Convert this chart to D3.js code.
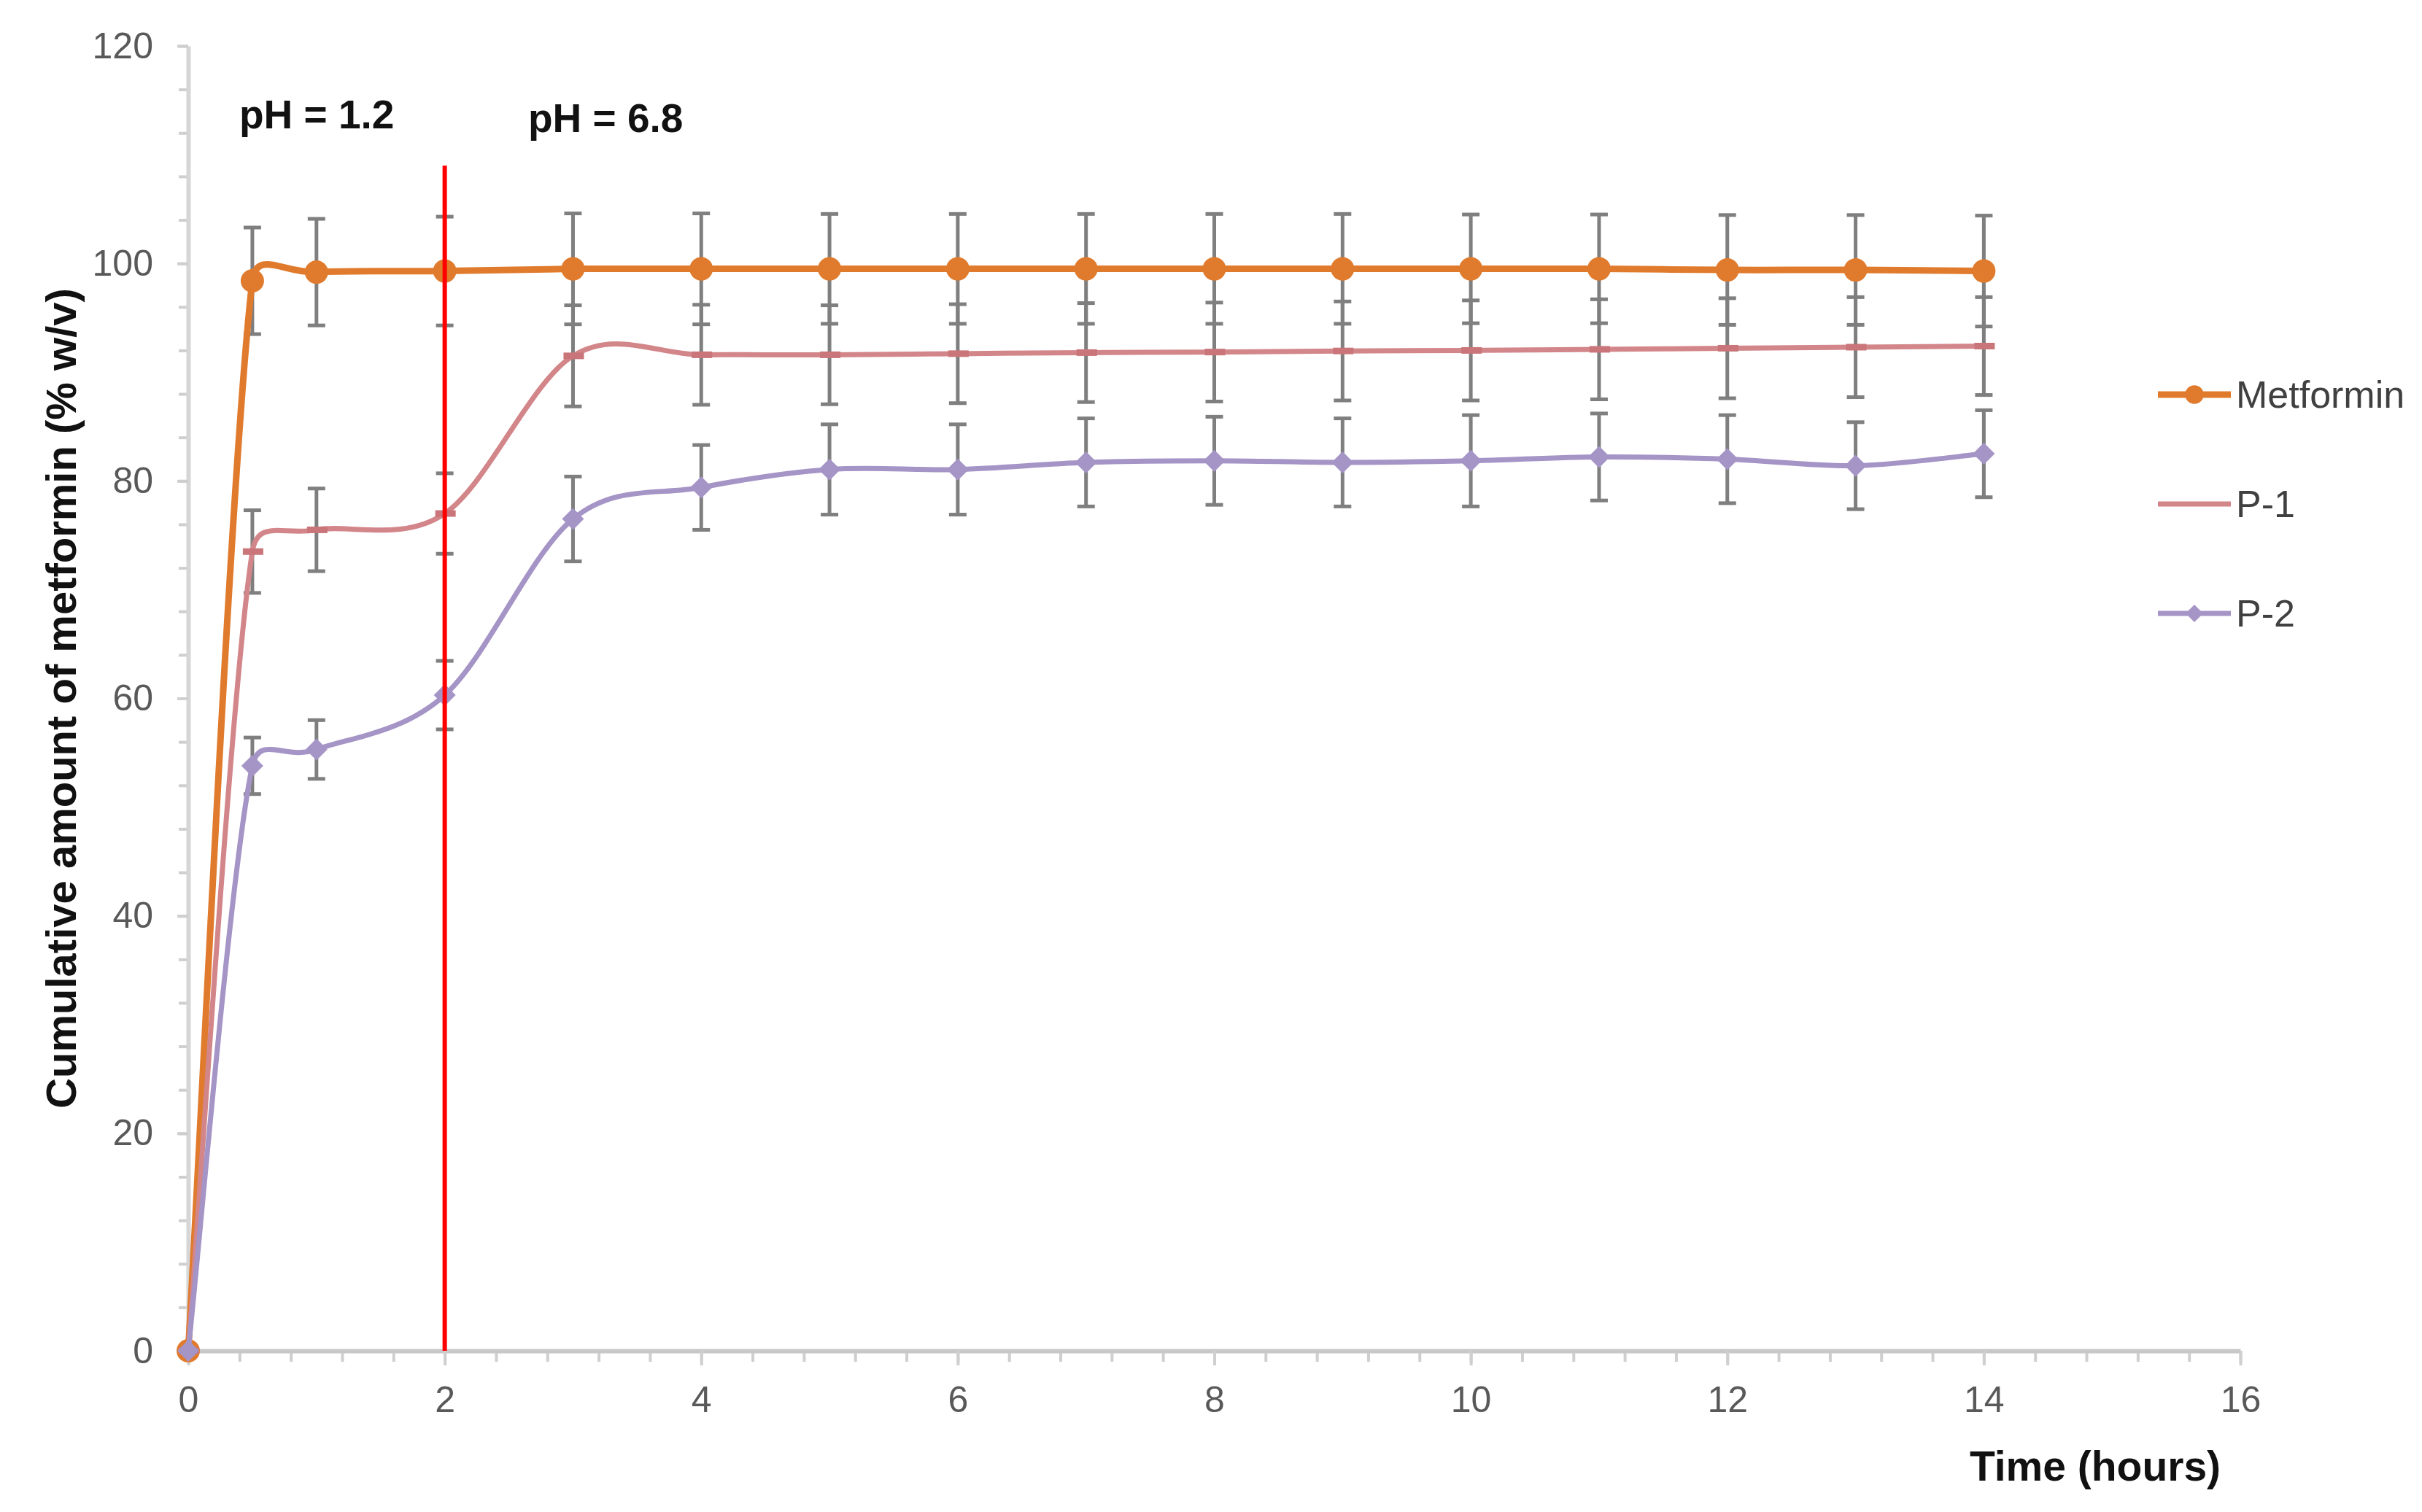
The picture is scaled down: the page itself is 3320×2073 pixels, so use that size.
<!DOCTYPE html>
<html>
<head>
<meta charset="utf-8">
<script src="https://cdn.jsdelivr.net/npm/d3@7"></script>
<style>
  html, body { margin: 0; padding: 0; background: #ffffff; }
  svg { display: block; }
</style>
</head>
<body>
<div id="chart"></div>
<script>
// ---------- data ----------
const times = [0, 0.5, 1, 2, 3, 4, 5, 6, 7, 8, 9, 10, 11, 12, 13, 14];
const metformin = [0, 98.4, 99.2, 99.3, 99.5, 99.5, 99.5, 99.5, 99.5, 99.5, 99.5, 99.5, 99.5, 99.4, 99.4, 99.3];
const metforminErr = [0, 4.9, 4.9, 5.0, 5.1, 5.1, 5.05, 5.05, 5.05, 5.05, 5.05, 5.0, 5.0, 5.05, 5.05, 5.1];
const p1 = [0, 73.5, 75.5, 77.0, 91.5, 91.6, 91.6, 91.7, 91.8, 91.85, 91.95, 92.0, 92.1, 92.2, 92.3, 92.4];
const p1Err = [0, 3.8, 3.8, 3.7, 4.65, 4.6, 4.55, 4.55, 4.55, 4.55, 4.55, 4.6, 4.6, 4.6, 4.6, 4.5];
const p2 = [0, 53.8, 55.3, 60.3, 76.5, 79.4, 81.05, 81.05, 81.7, 81.85, 81.7, 81.85, 82.2, 82.0, 81.4, 82.5];
const p2Err = [0, 2.6, 2.7, 3.15, 3.9, 3.9, 4.15, 4.15, 4.05, 4.05, 4.05, 4.2, 4.0, 4.05, 4.0, 4.0];
const seriesNames = ["Metformin", "P-1", "P-2"];
const xMajorTicks = [0, 2, 4, 6, 8, 10, 12, 14, 16];
const yMajorTicks = [0, 20, 40, 60, 80, 100, 120];
const phChange = 2;
const phLineTop = 109;
const phLabels = ["pH = 1.2", "pH = 6.8"];
const xTitle = "Time (hours)";
const yTitle = "Cumulative amount of metformin (% w/v)";

// ---------- layout ----------
const W = 3320, H = 2073;
const svg = d3.select("#chart").append("svg").attr("width", W).attr("height", H);

const x = d3.scaleLinear().domain([0, 16]).range([258, 3071]);
const y = d3.scaleLinear().domain([0, 120]).range([1852, 63]);

const axisColor = "#cfcfcf";
const labelColor = "#595959";
const font = "'Liberation Sans', Arial, sans-serif";

// minor ticks
const xMinor = d3.range(0, 16.0001, 0.4);
const yMinor = d3.range(0, 120.0001, 4);

const gxMinor = svg.append("g").attr("transform", `translate(0,${y(0)})`)
  .call(d3.axisBottom(x).tickValues(xMinor).tickSize(15).tickFormat(""));
gxMinor.select(".domain").remove();
gxMinor.selectAll("line").attr("stroke", axisColor).attr("stroke-width", 4);

const gyMinor = svg.append("g").attr("transform", `translate(${x(0)},0)`)
  .call(d3.axisLeft(y).tickValues(yMinor).tickSize(13).tickFormat(""));
gyMinor.select(".domain").remove();
gyMinor.selectAll("line").attr("stroke", axisColor).attr("stroke-width", 4);

// major axes
const gx = svg.append("g").attr("transform", `translate(0,${y(0)})`)
  .call(d3.axisBottom(x).tickValues(xMajorTicks).tickSize(20).tickSizeOuter(0).tickPadding(28));
gx.select(".domain").attr("stroke", "#c8c8c8").attr("stroke-width", 6);
gx.selectAll(".tick line").attr("stroke", axisColor).attr("stroke-width", 4);
gx.selectAll(".tick text").attr("fill", labelColor).attr("font-family", font).attr("font-size", 50);

const gy = svg.append("g").attr("transform", `translate(${x(0)},0)`)
  .call(d3.axisLeft(y).tickValues(yMajorTicks).tickSize(15).tickSizeOuter(0).tickPadding(33));
gy.select(".domain").attr("stroke", "#d6d6d6").attr("stroke-width", 6);
gy.selectAll(".tick line").attr("stroke", axisColor).attr("stroke-width", 4);
gy.selectAll(".tick text").attr("fill", labelColor).attr("font-family", font).attr("font-size", 50);

// titles
svg.append("text")
  .attr("x", 2872).attr("y", 2030)
  .attr("text-anchor", "middle")
  .attr("font-family", font).attr("font-weight", "bold").attr("font-size", 57)
  .attr("fill", "#111").text(xTitle);

svg.append("text")
  .attr("transform", `translate(104,${(y(0) + y(120)) / 2}) rotate(-90)`)
  .attr("text-anchor", "middle")
  .attr("font-family", font).attr("font-weight", "bold").attr("font-size", 58)
  .attr("fill", "#111").text(yTitle);

// pH labels
svg.append("text").attr("x", 328).attr("y", 176)
  .attr("font-family", font).attr("font-weight", "bold").attr("font-size", 55)
  .attr("fill", "#111").text(phLabels[0]);
svg.append("text").attr("x", 724).attr("y", 181)
  .attr("font-family", font).attr("font-weight", "bold").attr("font-size", 55)
  .attr("fill", "#111").text(phLabels[1]);

// ---------- series ----------
const series = [
  { name: seriesNames[0], values: metformin, err: metforminErr, color: "#E07B2D", width: 9, marker: "circle" },
  { name: seriesNames[1], values: p1, err: p1Err, color: "#D38689", width: 7, marker: "dash" },
  { name: seriesNames[2], values: p2, err: p2Err, color: "#A594C6", width: 7, marker: "diamond" }
];

// Spreadsheet-style smoothed line (Bezier with neighbour-parallel tangents,
// control arm 1/6 of neighbour distance, limited to half the segment length)
function smoothPath(pts) {
  const p = d3.path();
  const n = pts.length;
  const dist = (a, b) => Math.hypot(b[0] - a[0], b[1] - a[1]);
  p.moveTo(pts[0][0], pts[0][1]);
  for (let i = 0; i < n - 1; i++) {
    const p0 = pts[Math.max(0, i - 1)], p1 = pts[i], p2 = pts[i + 1], p3 = pts[Math.min(n - 1, i + 2)];
    const d12 = dist(p1, p2);
    const d02 = dist(p0, p2), d13 = dist(p1, p3);
    let f1 = 1 / 6, f2 = 1 / 6;
    if (d02 / 6 > d12 / 2 && d02 > 0) f1 = (d12 / 2) / d02;
    if (d13 / 6 > d12 / 2 && d13 > 0) f2 = (d12 / 2) / d13;
    const c1 = [p1[0] + (p2[0] - p0[0]) * f1, p1[1] + (p2[1] - p0[1]) * f1];
    const c2 = [p2[0] - (p3[0] - p1[0]) * f2, p2[1] - (p3[1] - p1[1]) * f2];
    p.bezierCurveTo(c1[0], c1[1], c2[0], c2[1], p2[0], p2[1]);
  }
  return p.toString();
}

function drawMarker(g, type, cx, cy, color, scale) {
  const s = scale || 1;
  if (type === "circle") {
    g.append("circle").attr("cx", cx).attr("cy", cy).attr("r", 16 * s).attr("fill", color);
  } else if (type === "dash") {
    g.append("rect").attr("x", cx - 13 * s).attr("y", cy - 4.5 * s)
      .attr("width", 28 * s).attr("height", 9 * s).attr("fill", "#C97579");
  } else if (type === "diamond") {
    const r = 15 * s;
    g.append("path")
      .attr("d", `M${cx},${cy - r}L${cx + r},${cy}L${cx},${cy + r}L${cx - r},${cy}Z`)
      .attr("fill", color);
  }
}

series.forEach(s => {
  const pts = times.map((t, i) => ({ t, v: s.values[i], e: s.err[i] }));
  const g = svg.append("g");
  // error bars
  const eb = g.append("g").attr("stroke", "#7f7f7f").attr("stroke-width", 5);
  pts.filter(d => d.e > 0).forEach(d => {
    eb.append("line").attr("x1", x(d.t)).attr("x2", x(d.t))
      .attr("y1", y(d.v - d.e)).attr("y2", y(d.v + d.e));
    eb.append("line").attr("x1", x(d.t) - 12).attr("x2", x(d.t) + 12)
      .attr("y1", y(d.v + d.e)).attr("y2", y(d.v + d.e));
    eb.append("line").attr("x1", x(d.t) - 12).attr("x2", x(d.t) + 12)
      .attr("y1", y(d.v - d.e)).attr("y2", y(d.v - d.e));
  });
  // smoothed line
  g.append("path").attr("d", smoothPath(pts.map(d => [x(d.t), y(d.v)])))
    .attr("fill", "none").attr("stroke", s.color).attr("stroke-width", s.width)
    .attr("stroke-linejoin", "round");
  // markers
  pts.forEach(d => drawMarker(g, s.marker, x(d.t), y(d.v), s.color));
});

// pH change line
svg.append("line")
  .attr("x1", x(phChange)).attr("x2", x(phChange))
  .attr("y1", y(0)).attr("y2", y(phLineTop))
  .attr("stroke", "#ff0000").attr("stroke-width", 6);

// ---------- legend ----------
const legendY = [541, 691, 841];
const lg = svg.append("g");
series.forEach((s, i) => {
  const ly = legendY[i];
  lg.append("line").attr("x1", 2958).attr("x2", 3058).attr("y1", ly).attr("y2", ly)
    .attr("stroke", s.color).attr("stroke-width", s.width);
  if (s.marker !== "dash") drawMarker(lg, s.marker, 3008, ly, s.color, 0.8);
  lg.append("text").attr("x", 3065).attr("y", ly)
    .attr("dominant-baseline", "central")
    .attr("font-family", font).attr("font-size", 52).attr("fill", "#404040")
    .text(s.name);
});
</script>
</body>
</html>
